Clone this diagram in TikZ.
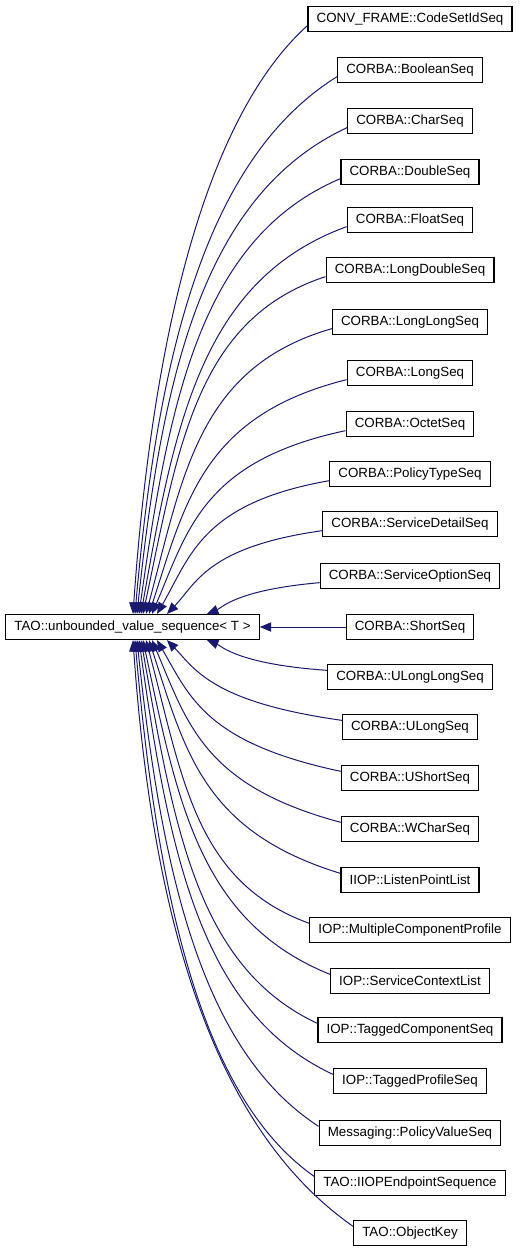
\documentclass[tikz,border=0pt]{standalone}
\usepackage{fontspec}
\setmainfont{Liberation Sans}
\usetikzlibrary{arrows.meta, calc}
\definecolor{cedge}{HTML}{191970}
\tikzset{
  every picture/.style={line width=0.75pt},
  cls/.style={draw=black, fill=white, line width=0.9pt, minimum height=18.75pt, inner xsep=6.5pt, inner ysep=0pt, font=\fontsize{10}{12}\selectfont},
  inherit/.style={-{Triangle[length=8.5pt, width=7pt]}, draw=cedge, line width=0.75pt},
}

\begin{document}
\begin{tikzpicture}[x=0.75pt, y=-0.75pt]
  \useasboundingbox (0,0) rectangle (520,1253);
  \node[cls] (base) at (132.5,627) {TAO::unbounded\_value\_sequence< T >};
  % classes above the base
  \foreach \i/\yc/\txt/\tx/\oa/\ia in {
      1/19/CONV\_FRAME::CodeSetIdSeq/133/222/86,
      2/70/CORBA::BooleanSeq/135/212/85,
      3/121/CORBA::CharSeq/137/205/84,
      4/172/CORBA::DoubleSeq/139/203/82,
      5/220/CORBA::FloatSeq/141/200/80,
      6/270/CORBA::LongDoubleSeq/143/198/78,
      7/322/CORBA::LongLongSeq/146/196/75,
      8/373/CORBA::LongSeq/149/194/72,
      9/424/CORBA::OctetSeq/152/192/67,
      10/474/CORBA::PolicyTypeSeq/157/190/60,
      11/524/CORBA::ServiceDetailSeq/167/188/46,
      12/576/CORBA::ServiceOptionSeq/207/185/22} {
    \node[cls] (c\i) at (410,\yc) {\txt};
    \draw[inherit] let \p1=([yshift=-5pt]c\i.west), \p2=(base.north -| \tx,0) in
      (\p1) to[out=\oa, in=\ia, out distance={0.75*(\x1-\x2)}, in distance={0.5*(\y1-\y2)}] (\p2);
  }
  \node[cls] (c13) at (410,627) {CORBA::ShortSeq};
  \draw[inherit] (c13) -- (base);
  % classes below the base
  \foreach \i/\yc/\txt/\tx/\oa/\ia in {
      14/677/CORBA::ULongLongSeq/207/176/-22,
      15/727/CORBA::ULongSeq/167/172/-46,
      16/778/CORBA::UShortSeq/157/168/-60,
      17/829/CORBA::WCharSeq/152/165/-67,
      18/880/IIOP::ListenPointList/149/163/-72,
      19/930/IOP::MultipleComponentProfile/146/160/-75,
      20/981/IOP::ServiceContextList/143/158/-78,
      21/1030/IOP::TaggedComponentSeq/141/155/-80,
      22/1081/IOP::TaggedProfileSeq/139/155/-82,
      23/1133/Messaging::PolicyValueSeq/137/147/-84,
      24/1183/TAO::IIOPEndpointSequence/135/145/-85,
      25/1233/TAO::ObjectKey/133/145/-86} {
    \node[cls] (c\i) at (410,\yc) {\txt};
    \draw[inherit] let \p1=([yshift=5pt]c\i.west), \p2=(base.south -| \tx,0) in
      (\p1) to[out=\oa, in=\ia, out distance={0.75*(\x1-\x2)}, in distance={0.5*(\y2-\y1)}] (\p2);
  }
\end{tikzpicture}
\end{document}
